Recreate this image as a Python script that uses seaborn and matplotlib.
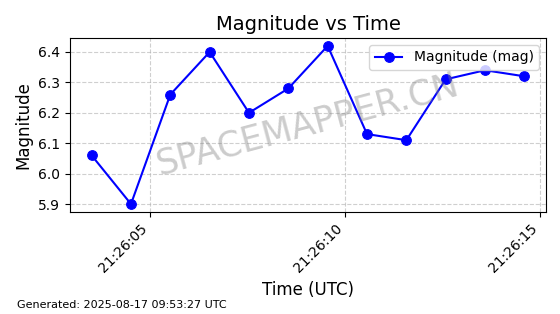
import matplotlib
matplotlib.use("Agg")
import matplotlib.pyplot as plt
import matplotlib.dates as mdates
import seaborn as sns
import pandas as pd

times = ["2025-08-16 21:26:03.505", "2025-08-16 21:26:04.513", "2025-08-16 21:26:05.521",
         "2025-08-16 21:26:06.529", "2025-08-16 21:26:07.537", "2025-08-16 21:26:08.545",
         "2025-08-16 21:26:09.553", "2025-08-16 21:26:10.561", "2025-08-16 21:26:11.569",
         "2025-08-16 21:26:12.577", "2025-08-16 21:26:13.585", "2025-08-16 21:26:14.593"]
magnitudes = [6.06, 5.90, 6.26, 6.40, 6.20, 6.28, 6.42, 6.13, 6.11, 6.31, 6.34, 6.32]

df = pd.DataFrame({"time": pd.to_datetime(times), "mag": magnitudes})

fig, ax = plt.subplots(figsize=(5.6, 3.14), dpi=100)
sns.lineplot(data=df, x="time", y="mag", marker="o", color="blue", markersize=7,
             markeredgecolor="blue", linewidth=1.5, label="Magnitude (mag)", ax=ax)

ax.set_title("Magnitude vs Time", fontsize=14)
ax.set_xlabel("Time (UTC)", fontsize=12)
ax.set_ylabel("Magnitude", fontsize=12)
ax.grid(True, linestyle="--", alpha=0.6)
ax.xaxis.set_major_locator(mdates.SecondLocator(bysecond=[0, 5, 10, 15, 20, 25, 30, 35, 40, 45, 50, 55]))
ax.xaxis.set_major_formatter(mdates.DateFormatter("%H:%M:%S"))
plt.setp(ax.get_xticklabels(), rotation=45, ha="right")
ax.legend(loc="upper right")

ax.text(0.5, 0.5, "SPACEMAPPER.CN", transform=ax.transAxes, fontsize=25,
        color="gray", alpha=0.4, rotation=15, ha="center", va="center")
fig.text(0.03, 0.02, "Generated: 2025-08-17 09:53:27 UTC", fontsize=8)

fig.subplots_adjust(left=0.125, right=0.975, top=0.879, bottom=0.325)
fig.savefig("out.png", dpi=100)
